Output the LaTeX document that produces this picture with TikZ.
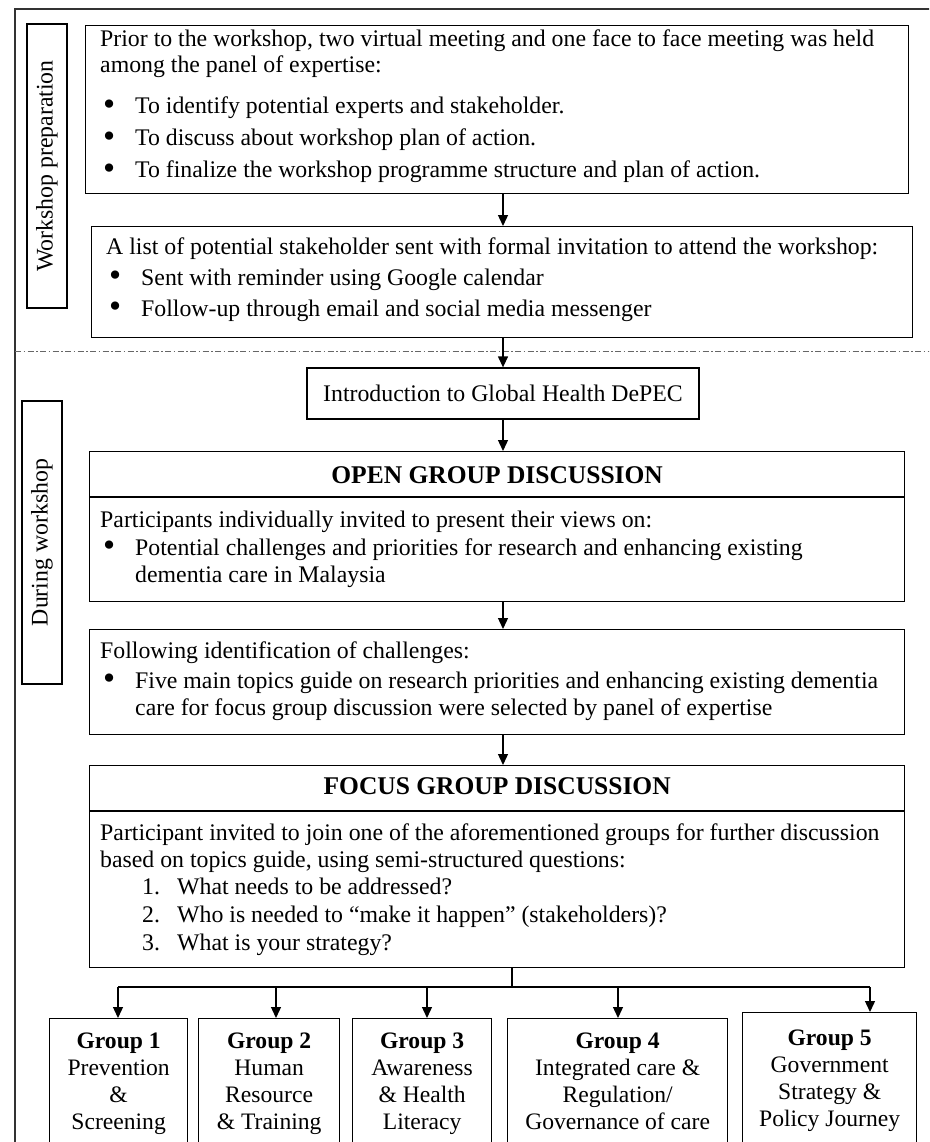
\documentclass[tikz,border=0pt]{standalone}
\usepackage{fontspec}
\usepackage{graphicx}
\setmainfont{Liberation Serif}
\usetikzlibrary{arrows.meta,calc}
\newcommand{\bigbul}{\smash{\raisebox{-1.5pt}{\scalebox{1.45}{\textbullet}}}}
\newcommand{\bul}{\makebox[35pt][l]{\hspace{3pt}\bigbul}}
\newcommand{\numit}[1]{\hspace*{42pt}\makebox[35pt][l]{#1}}
\newcommand{\bodyfont}{\fontsize{23.8}{27}\selectfont}
\newcommand{\hdrfont}{\fontsize{25.5}{27}\selectfont\bfseries}
\newcommand{\grpfont}{\fontsize{23.6}{27}\selectfont}
\tikzset{
  box/.style={draw, line width=1.3pt, rectangle, inner sep=0pt, anchor=north west},
  txt/.style={inner sep=0pt, anchor=base west, font=\bodyfont},
  hdr/.style={inner sep=0pt, anchor=base, font=\hdrfont},
  arr/.style={line width=1.3pt, -{Triangle[length=11pt,width=10pt]}},
  conn/.style={line width=1.3pt},
  side/.style={draw, line width=1.1pt, rectangle, inner sep=0pt},
  sidetxt/.style={inner sep=0pt, rotate=90, font=\bodyfont},
  grp/.style={inner sep=0pt, anchor=base, font=\grpfont}
}
\begin{document}
\begin{tikzpicture}[x=1pt,y=-1pt]
\clip (0,0) rectangle (929,1142);
\useasboundingbox (0,0) rectangle (929,1142);
% outer frame
\coordinate (fl) at (15,1150);
\coordinate (ftl) at (15,9);
\coordinate (ftr) at (935,9);
\draw[line width=1.5pt, black!80] (fl) -- (ftl) -- (ftr);
% separator
\coordinate (sepL) at (15,351);
\coordinate (sepR) at (935,351);
\draw[line width=0.7pt, black!60, dash pattern=on 6pt off 2.5pt on 1.5pt off 2.5pt] (sepL) -- (sepR);
% side labels
\node[side, minimum width=40pt, minimum height=284pt] (sideA) at (47,166) {};
\node[sidetxt] (sideAt) at (sideA.center) {Workshop preparation};
\node[side, minimum width=40pt, minimum height=283pt] (sideB) at (42,542.5) {};
\node[sidetxt] (sideBt) at (sideB.center) {During workshop};
% box 1
\node[box, minimum width=823pt, minimum height=168pt] (b1) at (85,25) {};
\node[txt] (b1t) at (100,47) {\begin{minipage}[t]{820pt}\bodyfont
Prior to the workshop, two virtual meeting and one face to face meeting was held\\[-1pt]
among the panel of expertise:\\[14pt]
\bul To identify potential experts and stakeholder.\\[5pt]
\bul To discuss about workshop plan of action.\\[5pt]
\bul To finalize the workshop programme structure and plan of action.
\end{minipage}};
% box 2
\node[box, minimum width=821pt, minimum height=111pt] (b2) at (91,226) {};
\node[txt] (b2t) at (106,254) {\begin{minipage}[t]{820pt}\bodyfont
A list of potential stakeholder sent with formal invitation to attend the workshop:\\[4pt]
\bul Sent with reminder using Google calendar\\[4pt]
\bul Follow-up through email and social media messenger
\end{minipage}};
% intro
\node[draw, line width=1.3pt, rectangle, inner sep=0pt, minimum width=392pt, minimum height=51pt, font=\bodyfont] (intro) at (503,393.5) {Introduction to Global Health DePEC};
% open group
\node[box, minimum width=815pt, minimum height=150pt] (open) at (89,451) {};
\draw[conn] ($(open.north west)+(0,46)$) -- ($(open.north east)+(0,46)$);
\node[hdr] (openh) at ($(open.north)+(0,32)$) {OPEN GROUP DISCUSSION};
\node[txt] (opent) at (100,527) {\begin{minipage}[t]{820pt}\bodyfont
Participants individually invited to present their views on:\\[1pt]
\bul Potential challenges and priorities for research and enhancing existing\\
\hspace*{35pt}dementia care in Malaysia
\end{minipage}};
% following
\node[box, minimum width=815pt, minimum height=105pt] (foll) at (89,629) {};
\node[txt] (follt) at (100,658) {\begin{minipage}[t]{820pt}\bodyfont
Following identification of challenges:\\[3pt]
\bul Five main topics guide on research priorities and enhancing existing dementia\\
\hspace*{35pt}care for focus group discussion were selected by panel of expertise
\end{minipage}};
% focus group
\node[box, minimum width=815pt, minimum height=202pt] (focus) at (89,765) {};
\draw[conn] ($(focus.north west)+(0,46)$) -- ($(focus.north east)+(0,46)$);
\node[hdr] (focush) at ($(focus.north)+(0,29)$) {FOCUS GROUP DISCUSSION};
\node[txt] (focust) at (100,840) {\begin{minipage}[t]{820pt}\bodyfont
Participant invited to join one of the aforementioned groups for further discussion\\
based on topics guide, using semi-structured questions:\\
\numit{1.}What needs to be addressed?\\[1pt]
\numit{2.}Who is needed to “make it happen” (stakeholders)?\\[1pt]
\numit{3.}What is your strategy?
\end{minipage}};
% groups
\node[box, minimum width=138pt, minimum height=140pt] (g1) at (49,1018) {};
\node[box, minimum width=141pt, minimum height=140pt] (g2) at (198,1018) {};
\node[box, minimum width=139pt, minimum height=140pt] (g3) at (352,1018) {};
\node[box, minimum width=220pt, minimum height=140pt] (g4) at (507,1018) {};
\node[box, minimum width=174pt, minimum height=145pt] (g5) at (742,1012) {};
\node[grp] (g1t) at ($(g1.north)+(0,30)$) {\begin{minipage}[t]{220pt}\centering\grpfont\textbf{Group 1}\\Prevention\\\&\\Screening\end{minipage}};
\node[grp] (g2t) at ($(g2.north)+(0,30)$) {\begin{minipage}[t]{220pt}\centering\grpfont\textbf{Group 2}\\Human\\Resource\\\& Training\end{minipage}};
\node[grp] (g3t) at ($(g3.north)+(0,30)$) {\begin{minipage}[t]{220pt}\centering\grpfont\textbf{Group 3}\\Awareness\\\& Health\\Literacy\end{minipage}};
\node[grp] (g4t) at ($(g4.north)+(0,30)$) {\begin{minipage}[t]{260pt}\centering\grpfont\textbf{Group 4}\\Integrated care \&\\Regulation/\\Governance of care\end{minipage}};
\node[grp] (g5t) at ($(g5.north)+(0,33)$) {\begin{minipage}[t]{220pt}\centering\grpfont\textbf{Group 5}\\Government\\Strategy \&\\Policy Journey\end{minipage}};
% arrows
\draw[arr] (b1.south -| intro.center) -- (b2.north -| intro.center);
\draw[arr] (b2.south -| intro.center) -- (intro.north);
\draw[arr] (intro.south) -- (open.north -| intro.center);
\draw[arr] (open.south -| intro.center) -- (foll.north -| intro.center);
\draw[arr] (foll.south -| intro.center) -- (focus.north -| intro.center);
% bus
\coordinate (bus) at (512,987);
\coordinate (a1) at (118,987);
\coordinate (a2) at (276,987);
\coordinate (a3) at (427,987);
\coordinate (a4) at (618,987);
\coordinate (a5) at (870,987);
\draw[conn] (focus.south -| bus) -- (bus);
\draw[conn] (a1) -- (a5);
\draw[arr] (a1) -- (a1 |- g1.north);
\draw[arr] (a2) -- (a2 |- g2.north);
\draw[arr] (a3) -- (a3 |- g3.north);
\draw[arr] (a4) -- (a4 |- g4.north);
\draw[arr] (a5) -- (a5 |- g5.north);
\end{tikzpicture}
\end{document}
